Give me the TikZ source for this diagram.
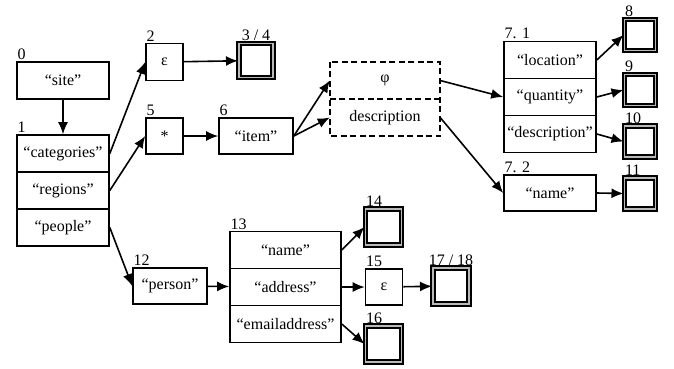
\documentclass[tikz,border=0pt]{standalone}
\usepackage{fontspec}
\setmainfont{Liberation Serif}
\usetikzlibrary{arrows.meta,positioning}

\begin{document}
\begin{tikzpicture}[
      x=1pt,y=-1pt,
      font=\fontsize{16}{19}\selectfont,
      state/.style={
        draw,
        line width=1.6pt,
        inner sep=0pt,
        minimum height=37pt
      },
      row/.style={
        state,
        minimum width=92pt
      },
      small/.style={
        state,
        minimum width=37pt
      },
      opt/.style={
        inner sep=0pt,
        minimum height=37pt,
        minimum width=110pt
      },
      optline/.style={
        line width=1.6pt,
        dash pattern=on 6pt off 3.5pt
      },
      final/.style={
        draw,
        line width=2pt,
        double=gray!55,
        double distance=1.2pt,
        inner sep=0pt,
        minimum width=#1,
        minimum height=#1
      },
      final/.default=31pt,
      num/.style={anchor=south west,inner sep=0pt,outer sep=1.5pt},
      arr/.style={-{Latex[length=12pt,width=10pt]},line width=1.6pt}
      ]
      \useasboundingbox (0,0) rectangle (674,368);

      % root and first level
      \node[row,label={[num]north west:0}] (site) at (63,80.5) {“site”};
      \node[row,label={[num]north west:1}] (cat) at (63,153.5) {“categories”};
      \node[row] (reg) at (63,190.5) {“regions”};
      \node[row] (peo) at (63,227.5) {“people”};

      % categories branch
      \node[small,label={[num]north west:2}] (eps1) at (164.5,62) {ε};
      \node[final=34pt,label={[inner sep=1.5pt]above:3 / 4}] (fin34) at (256,60.5) {};

      % regions branch
      \node[small,minimum height=36pt,label={[num]north west:5}] (star) at (164.5,136) {*};
      \node[row,minimum width=74pt,minimum height=36pt,label={[num]north west:6}] (item) at (256,136) {“item”};
      \node[opt] (phi) at (385,80.5) {φ};
      \node[opt] (desc) at (385,117.5) {description};
      \draw[optline] (phi.north west) rectangle (desc.south east);
      \draw[optline] (phi.south west) -- (phi.south east);

      \node[row,label={[num]north west:7. 1}] (loc) at (550,60) {“location”};
      \node[row] (qty) at (550,97) {“quantity”};
      \node[row] (dsc) at (550,134) {“description”};
      \node[row,minimum height=36pt,label={[num]north west:7. 2}] (nm) at (550,193) {“name”};

      \node[final,label={[num]north west:8}] (fin8) at (640,35) {};
      \node[final,label={[num]north west:9}] (fin9) at (640,90) {};
      \node[final,label={[num]north west:10}] (fin10) at (640,141.5) {};
      \node[final,label={[num]north west:11}] (fin11) at (640,193.5) {};

      % people branch
      \node[row,minimum width=74pt,minimum height=36pt,label={[num]north west:12}] (person) at (170,286) {“person”};
      \node[row,minimum width=111pt,label={[num]north west:13}] (pname) at (285.5,250) {“name”};
      \node[row,minimum width=111pt] (addr) at (285.5,287) {“address”};
      \node[row,minimum width=111pt] (email) at (285.5,324) {“emailaddress”};

      \node[final=36pt,label={[num]north west:14}] (fin14) at (383.5,227) {};
      \node[small,minimum height=36pt,label={[num]north west:15}] (eps2) at (384,287) {ε};
      \node[final=36pt,label={[inner sep=1.5pt]above:17 / 18}] (fin1718) at (451,286) {};
      \node[final=36pt,label={[num]north west:16}] (fin16) at (383.5,344) {};

      % transitions
      \draw[arr] (site) -- (cat);
      \draw[arr] (cat.east) -- (eps1.west);
      \draw[arr] (eps1) -- (fin34);
      \draw[arr] (reg.east) -- (star.west);
      \draw[arr] (star) -- (item);
      \draw[arr] (item.east) -- (phi.west);
      \draw[arr] (item.east) -- (desc.west);
      \draw[arr] (phi.east) -- (qty.west);
      \draw[arr] (desc.east) -- (nm.west);
      \draw[arr] (loc.east) -- (fin8.west);
      \draw[arr] (qty.east) -- (fin9.west);
      \draw[arr] (dsc.east) -- (fin10.west);
      \draw[arr] (nm.east) -- (fin11.west);
      \draw[arr] (peo.east) -- (person.west);
      \draw[arr] (person) -- (addr);
      \draw[arr] (pname.east) -- (fin14.west);
      \draw[arr] (addr) -- (eps2);
      \draw[arr] (eps2) -- (fin1718);
      \draw[arr] (email.east) -- (fin16.west);
    \end{tikzpicture}
\end{document}
